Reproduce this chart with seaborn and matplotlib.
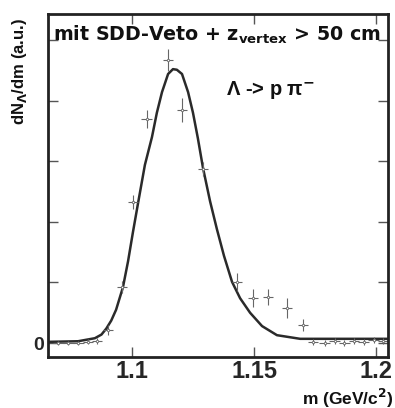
import matplotlib
matplotlib.use("Agg")
import matplotlib.pyplot as plt
import seaborn as sns
import pandas as pd

# ---- data ----
# measured points (mass in GeV/c^2, yield in a.u.)
pt_m = [1.0698, 1.0739, 1.0780, 1.0820, 1.0857, 1.0902, 1.0959, 1.1004, 1.1061,
        1.1148, 1.1205, 1.1291, 1.1430, 1.1496, 1.1557, 1.1635, 1.1701,
        1.1742, 1.1790, 1.1830, 1.1870, 1.1910, 1.1950, 1.1990, 1.2030]
pt_y = [0.00, 0.00, 0.00, 0.02, 0.03, 0.21, 0.92, 2.33, 3.70,
        4.67, 3.85, 2.87, 1.01, 0.74, 0.76, 0.58, 0.30,
        0.02, 0.00, 0.03, 0.00, 0.04, 0.02, 0.05, 0.03]
pt_yerr = [0.03, 0.03, 0.03, 0.04, 0.05, 0.08, 0.10, 0.12, 0.15,
           0.18, 0.20, 0.12, 0.15, 0.15, 0.14, 0.16, 0.10,
           0.05, 0.05, 0.05, 0.05, 0.05, 0.05, 0.05, 0.05]
pt_xerr = 0.0022

# fitted curve
fit_m = [1.0656, 1.0779, 1.0848, 1.0875, 1.0895, 1.0915, 1.0935, 1.0963, 1.0984, 1.1004,
         1.1025, 1.1053, 1.1082, 1.1102, 1.1123, 1.1148, 1.1168, 1.1184,
         1.1205, 1.1230, 1.1250, 1.1270, 1.1291, 1.1320, 1.1348, 1.1377, 1.1410,
         1.1443, 1.1484, 1.1533, 1.1594, 1.1689, 1.2049]
fit_y = [0.02, 0.03, 0.08, 0.14, 0.24, 0.37, 0.55, 0.92, 1.35, 1.83,
         2.31, 2.94, 3.40, 3.80, 4.14, 4.44, 4.52, 4.51,
         4.44, 4.14, 3.80, 3.38, 2.89, 2.34, 1.88, 1.44, 1.01,
         0.74, 0.50, 0.28, 0.13, 0.07, 0.07]

x_ticks = [1.1, 1.15, 1.2]
x_ticklabels = ["1.1", "1.15", "1.2"]
y_ticks = [0, 1, 2, 3, 4, 5]
y_ticklabels = ["0", "", "", "", "", ""]

# ---- style ----
sns.set_style("ticks")
plt.rcParams["font.family"] = ["Liberation Sans", "DejaVu Sans"]
plt.rcParams["font.weight"] = "bold"
plt.rcParams["mathtext.fontset"] = "custom"
plt.rcParams["mathtext.rm"] = "DejaVu Sans:bold"
plt.rcParams["mathtext.bf"] = "DejaVu Sans:bold"
plt.rcParams["mathtext.it"] = "DejaVu Sans:bold"

fig = plt.figure(figsize=(3.95, 4.08), dpi=100)
ax = fig.add_axes([48 / 395, 1 - 357 / 408, 340 / 395, 343 / 408])

fit_df = pd.DataFrame({"m": fit_m, "y": fit_y})
pts_df = pd.DataFrame({"m": pt_m, "y": pt_y, "yerr": pt_yerr})

sns.lineplot(data=fit_df, x="m", y="y", ax=ax, color="#2a2a2a", linewidth=1.8,
             sort=False, estimator=None)
ax.errorbar(pts_df["m"], pts_df["y"], yerr=pts_df["yerr"], xerr=pt_xerr,
            fmt="none", ecolor="#666666", elinewidth=0.8, capsize=0)
sns.scatterplot(data=pts_df, x="m", y="y", ax=ax, marker="s", s=3,
                color="white", edgecolor="#666666", linewidth=0.5, zorder=4)

ax.set_xlim(1.0656, 1.2049)
ax.set_ylim(-0.23, 5.43)
ax.set_xticks(x_ticks)
ax.set_xticklabels(x_ticklabels, fontsize=17, fontweight="bold")
ax.set_yticks(y_ticks)
ax.set_yticklabels(y_ticklabels, fontsize=14, fontweight="bold")
ax.tick_params(direction="in", length=7, width=1.0, top=True, right=True,
               color="#555555", pad=3)
ax.tick_params(axis="x", pad=2)
for sp in ax.spines.values():
    sp.set_linewidth(2.0)
    sp.set_color("#222222")
ax.set_xlabel("")
ax.set_ylabel("")

ax.text(0.015, 0.94, r"mit SDD-Veto + z$_{\mathbf{vertex}}$ > 50 cm",
        transform=ax.transAxes, fontsize=13.7, fontweight="bold",
        family="DejaVu Sans", ha="left", va="center", color="#111111")
ax.text(0.653, 0.778, r"Λ -> p π$^{\mathbf{-}}$", transform=ax.transAxes,
        fontsize=14.5, fontweight="bold", ha="center", va="center", color="#111111")

fig.text(20 / 395, 1 - 72 / 408, r"dN$_{\mathbf{Λ}}$/dm (a.u.)", rotation=90,
         fontsize=12, fontweight="bold", ha="center", va="center", color="#111111")
fig.text(393 / 395, 1 - 398 / 408, r"m (GeV/c$^{\mathbf{2}}$)", fontsize=12.5,
         fontweight="bold", ha="right", va="center", color="#111111")

fig.savefig("out.png", dpi=100, facecolor="white")
